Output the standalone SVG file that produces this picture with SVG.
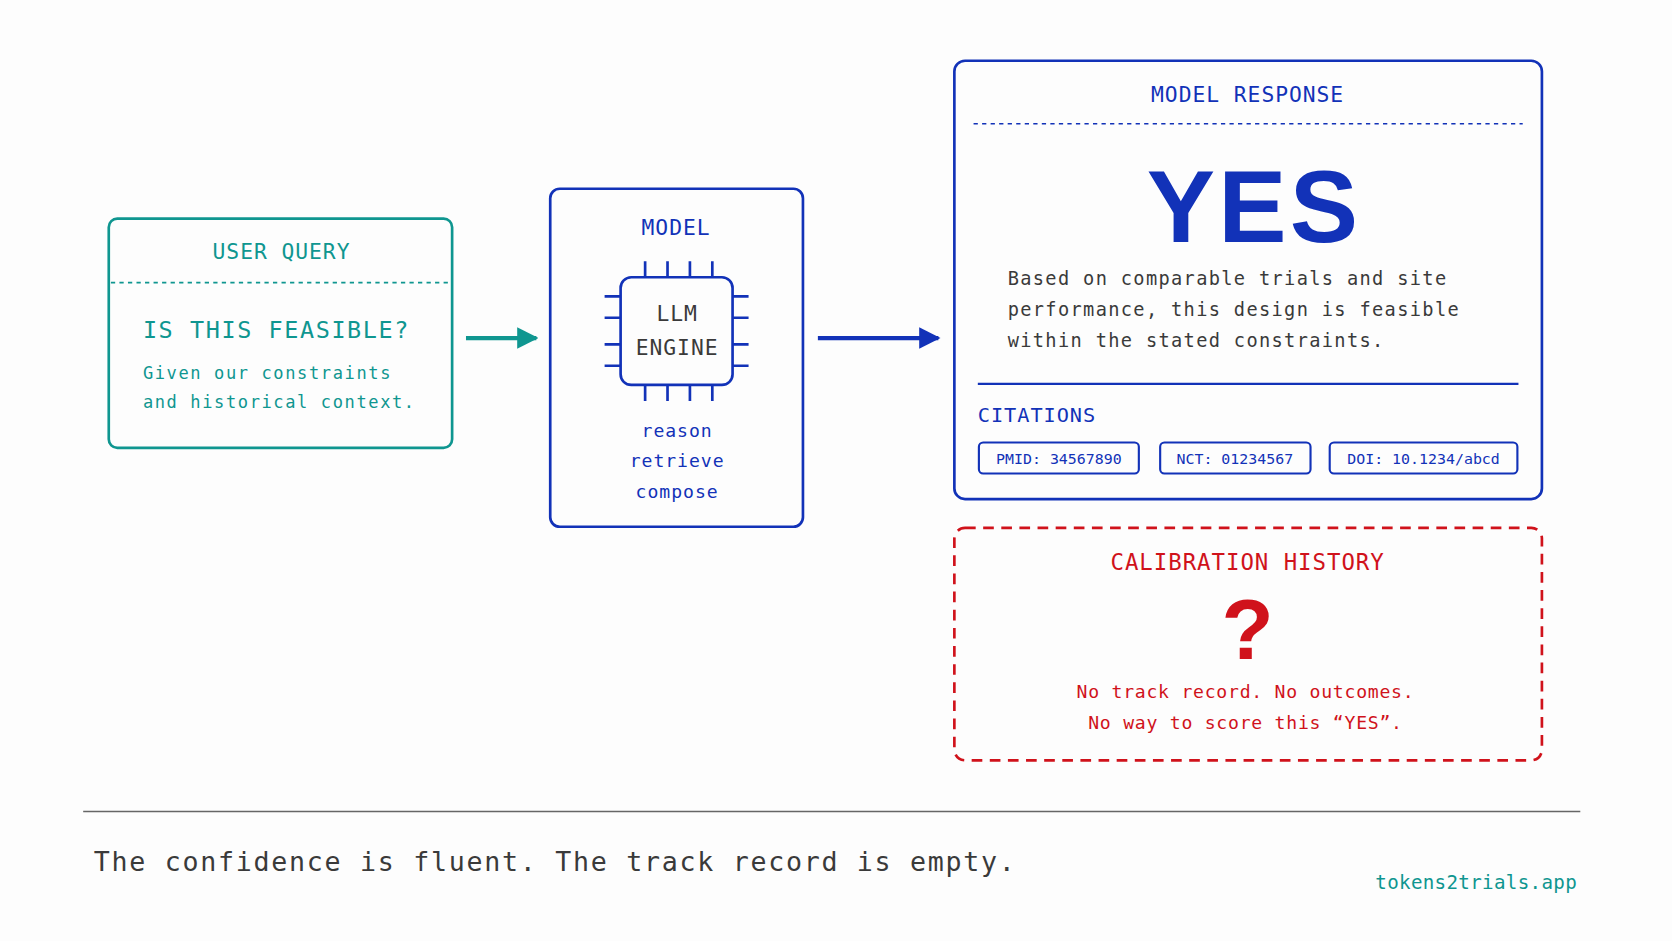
<svg xmlns="http://www.w3.org/2000/svg" width="1672" height="941" viewBox="0 0 1672 941">
<style>
.m{font-family:"DejaVu Sans Mono","Liberation Mono",monospace}
.t{fill:#0f9690}.b{fill:#1232b8}.r{fill:#d0121b}.g{fill:#3a3a3a}
.h{letter-spacing:0.9px}
</style>
<defs>
<marker id="at" viewBox="0 0 10 10" refX="9" refY="5" markerWidth="5" markerHeight="5" orient="auto"><path d="M0,0L10,5L0,10z" fill="#0f9690"/></marker>
<marker id="ab" viewBox="0 0 10 10" refX="9" refY="5" markerWidth="5" markerHeight="5" orient="auto"><path d="M0,0L10,5L0,10z" fill="#1232b8"/></marker>
</defs>
<rect width="1672" height="941" fill="#fdfdfd"/>
<g transform="scale(1.06633)">
<g id="query">
<rect x="102" y="205" width="322" height="215" rx="8" fill="none" stroke="#0f9690" stroke-width="2.5"/>
<line x1="104" y1="265" x2="422" y2="265" stroke="#0f9690" stroke-width="1.5" stroke-dasharray="4,4"/>
<text x="264" y="243" class="m t h" font-size="20" text-anchor="middle">USER QUERY</text>
<text x="134" y="317" class="m t" font-size="22" letter-spacing="1.5">IS THIS FEASIBLE?</text>
<text x="134" y="355" class="m t" font-size="16" letter-spacing="1.5">Given our constraints</text>
<text x="134" y="383" class="m t" font-size="16" letter-spacing="1.5">and historical context.</text>
</g>
<g id="model">
<rect x="516" y="177" width="237" height="317" rx="9" fill="none" stroke="#1232b8" stroke-width="2.5"/>
<text x="634" y="220" class="m b h" font-size="20" text-anchor="middle">MODEL</text>
<rect x="582" y="260" width="105" height="101" rx="10" fill="none" stroke="#1232b8" stroke-width="2.5"/>
<path d="M605 245v15M626 245v15M647 245v15M668 245v15M605 361v15M626 361v15M647 361v15M668 361v15M567 278h15M567 298h15M567 323h15M567 343h15M687 278h15M687 298h15M687 323h15M687 343h15" stroke="#1232b8" stroke-width="2.5"/>
<text x="635" y="301" class="m g h" font-size="20" text-anchor="middle">LLM</text>
<text x="635" y="333" class="m g h" font-size="20" text-anchor="middle">ENGINE</text>
<text x="635" y="410" class="m b h" font-size="17" text-anchor="middle">reason</text>
<text x="635" y="438" class="m b h" font-size="17" text-anchor="middle">retrieve</text>
<text x="635" y="467" class="m b h" font-size="17" text-anchor="middle">compose</text>
</g>
<g id="response">
<rect x="895" y="57" width="551" height="411" rx="10" fill="none" stroke="#1232b8" stroke-width="2.5"/>
<text x="1170" y="96" class="m b h" font-size="20" text-anchor="middle">MODEL RESPONSE</text>
<line x1="913" y1="116" x2="1428" y2="116" stroke="#1232b8" stroke-width="1.5" stroke-dasharray="4,4"/>
<text x="1176" y="227" font-family="Liberation Sans,Arial,sans-serif" font-weight="bold" font-size="96" class="b" text-anchor="middle" letter-spacing="3">YES</text>
<text x="945" y="267" class="m g" font-size="17.5" letter-spacing="1.25">Based on comparable trials and site</text>
<text x="945" y="296" class="m g" font-size="17.5" letter-spacing="1.25">performance, this design is feasible</text>
<text x="945" y="325" class="m g" font-size="17.5" letter-spacing="1.25">within the stated constraints.</text>
<line x1="917" y1="360" x2="1424" y2="360" stroke="#1232b8" stroke-width="2"/>
<text x="917" y="396" class="m b h" font-size="19">CITATIONS</text>
<rect x="918" y="415" width="150" height="29" rx="4" fill="none" stroke="#1232b8" stroke-width="2"/>
<text x="993" y="435" class="m b" font-size="14" text-anchor="middle">PMID: 34567890</text>
<rect x="1088" y="415" width="141" height="29" rx="4" fill="none" stroke="#1232b8" stroke-width="2"/>
<text x="1158" y="435" class="m b" font-size="14" text-anchor="middle">NCT: 01234567</text>
<rect x="1247" y="415" width="176" height="29" rx="4" fill="none" stroke="#1232b8" stroke-width="2"/>
<text x="1335" y="435" class="m b" font-size="14" text-anchor="middle">DOI: 10.1234/abcd</text>
</g>
<g id="calibration">
<rect x="895" y="495" width="551" height="218" rx="10" fill="none" stroke="#d0121b" stroke-width="2.5" stroke-dasharray="10,7"/>
<text x="1170" y="535" class="m r h" font-size="21" text-anchor="middle">CALIBRATION HISTORY</text>
<text x="1170" y="618" font-family="Liberation Sans,Arial,sans-serif" font-weight="bold" font-size="80" class="r" text-anchor="middle">?</text>
<text x="1168" y="655" class="m r" font-size="17" text-anchor="middle" letter-spacing="0.7">No track record. No outcomes.</text>
<text x="1168" y="684" class="m r" font-size="17" text-anchor="middle" letter-spacing="0.7">No way to score this “YES”.</text>
</g>
<g id="connectors">
<line x1="437" y1="317" x2="503" y2="317" stroke="#0f9690" stroke-width="4" marker-end="url(#at)"/>
<line x1="767" y1="317" x2="880" y2="317" stroke="#1232b8" stroke-width="4" marker-end="url(#ab)"/>
</g>
<line x1="78" y1="761" x2="1482" y2="761" stroke="#666" stroke-width="1.5"/>
<text x="88" y="817" class="m g" font-size="25" letter-spacing="1.6">The confidence is fluent. The track record is empty.</text>
<text x="1479" y="834" class="m t" font-size="18" text-anchor="end" letter-spacing="0.3">tokens2trials.app</text>
</g>
</svg>
